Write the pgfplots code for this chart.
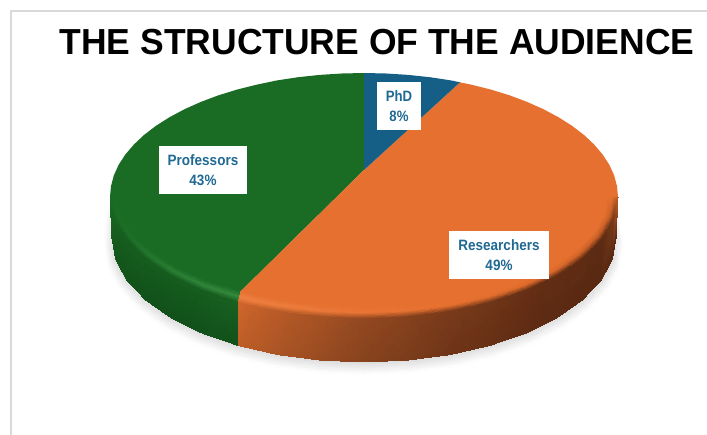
\documentclass[border=0pt]{standalone}
\usepackage{fontspec}
\setmainfont{Liberation Sans}
\usepackage{graphicx}
\usepackage{pgfplots}
\pgfplotsset{compat=1.18}
\definecolor{lab}{RGB}{31,105,147}
\definecolor{gface}{RGB}{26,107,36}
\definecolor{oface}{RGB}{229,112,47}
\definecolor{bface}{RGB}{21,95,134}
\definecolor{frame}{RGB}{217,217,217}
\tikzset{lbl/.style={font=\bfseries\fontsize{15}{20}\selectfont,text=lab,align=center,fill=white,inner sep=0pt,minimum height=48pt}}
\begin{document}
\begin{tikzpicture}
\begin{axis}[at={(0,0)},anchor=south west,width=707pt,height=435pt,scale only axis,hide axis,
  xmin=0,xmax=707,ymin=0,ymax=435,y dir=reverse]
% page background, which also fixes the picture's extent
\addplot[fill=white,draw=white,line width=0pt] coordinates {(0,0) (707,0) (707,435) (0,435)} -- cycle;
% frame
\addplot[draw=frame,line width=2pt,no markers] coordinates {(10.5,435) (10.5,11) (707,11)};
% soft shadow
\addplot[surf,shader=interp,mesh/color input=explicit,mesh/cols=21] table[meta=c] {
x y c
111 205 rgb255=255,255,255
112 238 rgb255=228,228,228
115.8 259.6 rgb255=220,220,220
127.1 280.4 rgb255=220,220,220
145.8 300 rgb255=220,220,220
171 317.7 rgb255=220,220,220
202 333 rgb255=220,220,220
238 345.4 rgb255=220,220,220
277.8 354.6 rgb255=220,220,220
320.2 360.1 rgb255=220,220,220
364 362 rgb255=220,220,220
407.8 360.1 rgb255=220,220,220
450.2 354.6 rgb255=220,220,220
490 345.4 rgb255=220,220,220
526 333 rgb255=220,220,220
557 317.7 rgb255=220,220,220
582.2 300 rgb255=220,220,220
600.9 280.4 rgb255=220,220,220
612.2 259.6 rgb255=220,220,220
616 238 rgb255=228,228,228
617 205 rgb255=255,255,255
106 205 rgb255=255,255,255
104 245 rgb255=255,255,255
107.9 267.6 rgb255=255,255,255
119.6 289.5 rgb255=255,255,255
138.8 310 rgb255=255,255,255
164.8 328.6 rgb255=255,255,255
196.8 344.6 rgb255=255,255,255
234 357.6 rgb255=255,255,255
275.1 367.2 rgb255=255,255,255
318.8 373 rgb255=255,255,255
364 375 rgb255=255,255,255
409.2 373 rgb255=255,255,255
452.9 367.2 rgb255=255,255,255
494 357.6 rgb255=255,255,255
531.2 344.6 rgb255=255,255,255
563.2 328.6 rgb255=255,255,255
589.2 310 rgb255=255,255,255
608.4 289.5 rgb255=255,255,255
620.1 267.6 rgb255=255,255,255
624 245 rgb255=255,255,255
623 205 rgb255=255,255,255
};
% top faces
\addplot[fill=gface,draw=none] coordinates {(364,170) (241,291) (238,303) (200.7,290.5) (169.4,275.4) (144,258) (125.2,238.7) (113.8,218.2) (110,197) (111,186.2) (113.8,175.5) (118.6,164.9) (125.3,154.6) (133.9,144.5) (144,135) (156,125.8) (169.4,117.3) (184.4,109.3) (200.7,102) (218.2,95.4) (237,89.6) (256.6,84.7) (277.1,80.4) (298.2,77.2) (319.8,74.9) (341.9,73.5) (364,73)} -- cycle;
\addplot[fill=oface,draw=none] coordinates {(364,170) (460,82.3) (471.4,84.7) (491,89.6) (509.8,95.4) (527.3,102) (543.6,109.3) (558.6,117.3) (572,125.8) (584,135) (594.1,144.5) (602.7,154.6) (609.4,164.9) (614.2,175.5) (617,186.2) (618,197) (614.2,218.2) (602.8,238.7) (584,258) (558.6,275.4) (527.3,290.5) (491,302.7) (450.9,311.7) (408.2,317.2) (364,319) (319.8,317.2) (277.1,311.7) (238,303) (241,291)} -- cycle;
\addplot[fill=bface,draw=none] coordinates {(364,170) (364,73) (386.1,73.5) (408.2,74.9) (429.8,77.2) (450.9,80.4) (460,82.3)} -- cycle;
% green bevel and side
\addplot[surf,shader=interp,mesh/color input=explicit,mesh/cols=7] table[meta=c] {
x y c
120 197 rgb255=26,107,36
123.7 216.1 rgb255=26,107,36
134.6 234.6 rgb255=26,107,36
152.7 252 rgb255=26,107,36
177.1 267.7 rgb255=26,107,36
207.1 281.3 rgb255=26,107,36
241 291 rgb255=26,107,36
115 197 rgb255=26,107,36
118.75 217.15 rgb255=28,110,38
129.9 236.65 rgb255=30,113,40
148.35 255 rgb255=36,120,46
173.25 271.55 rgb255=42,128,52
203.9 285.9 rgb255=48,134,58
239.5 297.5 rgb255=52,138,62
110 197 rgb255=26,107,36
113.8 218.2 rgb255=24,98,32
125.2 238.7 rgb255=22,92,30
144 258 rgb255=22,92,30
169.4 275.4 rgb255=22,92,30
200.7 290.5 rgb255=22,92,30
238 303 rgb255=24,96,32
112 238 rgb255=22,92,30
115.8 259.6 rgb255=18,84,27
127.1 280.4 rgb255=18,82,26
145.8 300 rgb255=17,80,26
171 317.7 rgb255=17,80,26
202 333 rgb255=17,80,26
238 345.4 rgb255=17,80,26
};
% orange bevel and side
\addplot[surf,shader=interp,mesh/color input=explicit,mesh/cols=13] table[meta=c] {
x y c
241 291 rgb255=229,112,47
280.6 300.4 rgb255=229,112,47
321.5 305.4 rgb255=229,112,47
364 307 rgb255=229,112,47
406.5 305.4 rgb255=229,112,47
447.4 300.4 rgb255=229,112,47
486 292.3 rgb255=229,112,47
520.9 281.3 rgb255=229,112,47
550.9 267.7 rgb255=229,112,47
575.3 252 rgb255=229,112,47
593.4 234.6 rgb255=229,112,47
604.3 216.1 rgb255=229,112,47
608 197 rgb255=229,112,47
239.5 297.5 rgb255=238,128,66
278.85 306.05 rgb255=238,126,62
320.65 311.3 rgb255=236,122,58
364 313 rgb255=234,118,54
407.35 311.3 rgb255=232,115,50
449.15 306.05 rgb255=229,112,47
488.5 297.5 rgb255=226,110,46
524.1 285.9 rgb255=222,107,44
554.75 271.55 rgb255=216,104,43
579.65 255 rgb255=205,98,40
598.1 236.65 rgb255=200,96,40
609.25 217.15 rgb255=205,100,41
613 197 rgb255=229,112,47
238 303 rgb255=208,102,44
277.1 311.7 rgb255=184,90,39
319.8 317.2 rgb255=165,81,36
364 319 rgb255=146,72,32
408.2 317.2 rgb255=133,65,29
450.9 311.7 rgb255=120,57,26
491 302.7 rgb255=110,53,24
527.3 290.5 rgb255=102,47,21
558.6 275.4 rgb255=96,44,20
584 258 rgb255=94,43,19
602.8 238.7 rgb255=92,42,19
614.2 218.2 rgb255=120,58,25
618 197 rgb255=190,94,38
238 345.4 rgb255=190,94,40
277.8 354.6 rgb255=170,84,36
320.2 360.1 rgb255=152,75,33
364 362 rgb255=134,66,29
407.8 360.1 rgb255=122,60,27
450.2 354.6 rgb255=110,52,24
490 345.4 rgb255=102,49,22
526 333 rgb255=94,43,19
557 317.7 rgb255=90,41,18
582.2 300 rgb255=88,40,18
600.9 280.4 rgb255=88,40,18
612.2 259.6 rgb255=88,40,18
616 238 rgb255=90,42,18
};
% data labels
\node[lbl,minimum width=44pt] at (axis cs:399,106) {\scalebox{.88}[1]{PhD}\\\scalebox{.88}[1]{8\%}};
\node[lbl,minimum width=88pt] at (axis cs:203,170) {\scalebox{.9}[1]{Professors}\\\scalebox{.9}[1]{43\%}};
\node[lbl,minimum width=100pt] at (axis cs:499,255) {\scalebox{.9}[1]{Researchers}\\\scalebox{.9}[1]{49\%}};
% title
\node[text=black,inner sep=0pt,font=\bfseries\fontsize{36.2}{40}\selectfont] at (axis cs:377,42) {\scalebox{.98}[1]{THE STRUCTURE OF THE AUDIENCE}};
\end{axis}
\end{tikzpicture}
\end{document}
